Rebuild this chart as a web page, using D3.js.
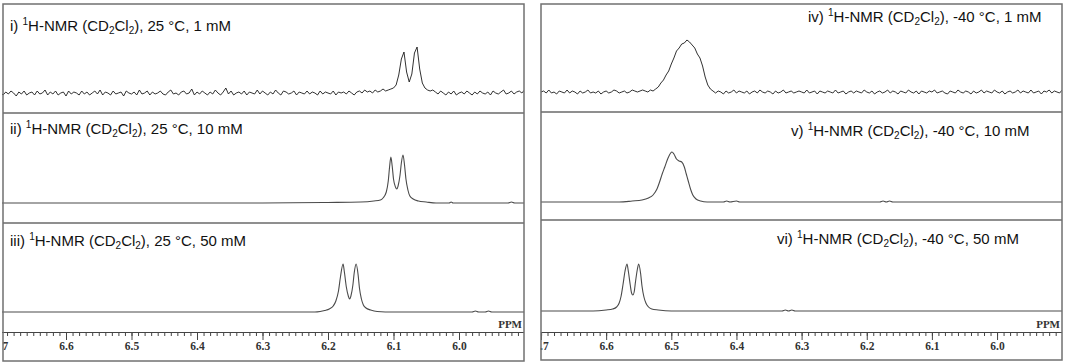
<!DOCTYPE html>
<html>
<head>
<meta charset="utf-8">
<script src="https://cdn.jsdelivr.net/npm/d3@7"></script>
<style>
  html, body { margin: 0; padding: 0; background: #fff; }
  svg { display: block; }
</style>
</head>
<body>
<div id="chart"></div>
<script>
// chemical shift axis (ppm)
const majorTicks = [6.7, 6.6, 6.5, 6.4, 6.3, 6.2, 6.1, 6.0];
const ppmDomain = [6.7, 5.9];
const noiseStep = 0.004; // ppm between points of the noisy traces, from 6.7 down

// i) 25 °C, 1 mM  (noisy trace, one value per 0.004 ppm)
const spec25_1 = [
  0,-2,1,-1,2,0,-3,1,-1,2,-2,0,1,-2,2,-1,0,3,-2,1,
  -1,2,-2,0,1,-3,2,-1,1,0,-2,2,-1,1,-2,0,2,-1,3,-2,
  1,0,-2,2,-1,0,1,-3,2,0,-1,1,-2,3,-1,0,2,-2,1,-1,
  0,2,-1,-2,1,3,-1,0,-2,1,2,-1,0,4,-2,1,-1,2,0,-2,
  1,-1,3,0,-2,1,5,-1,2,-2,0,1,-1,2,-2,1,0,-1,3,-1,
  2,0,-2,1,-1,3,0,-2,2,1,-1,0,2,-2,1,0,-1,2,-1,1,
  0,-2,2,-1,1,0,-1,2,-2,1,0,1,-1,2,0,-2,1,2,0,3,
  1,2,0,3,1,2,4,2,3,4,
  5,8,18,34,41,21,11,19,40,46,24,10,5,3,2,
  3,1,-1,2,0,-2,1,-1,2,-2,0,1,-1,2,0,-2,1,-1,2,0,
  -1,1,-2,2,0,-1,1,3,-1,0,2,-1,1,2,0,3
];

// iv) -40 °C, 1 mM  (noisy trace, one value per 0.004 ppm)
const specM40_1 = [
  0,1,-1,2,-1,0,-2,1,0,-1,2,-1,1,0,-2,1,-1,0,2,-1,
  0,-1,1,-2,0,1,-1,0,2,1,-1,0,1,-1,0,2,1,0,1,2,
  1,0,2,1,
  3,5,9,12,17,21,28,34,41,44,48,49,52,50,47,44,38,34,26,15,7,3,1,
  -1,1,0,-2,1,-1,0,2,-1,1,0,-1,1,-2,0,1,-1,2,0,-1,1,0,-2,1,-1,0,2,-1,0,1,-1,0,1,
  0,-1,2,-1,0,1,-2,1,0,-1,1,0,-1,2,-1,0,1,-2,0,1,-1,1,0,-1,2,0,-1,1,-2,0,1,-1,0,2,-1,1,0,-2,1,0,
  -1,2,0,-1,1,-2,1,0,-1,1,0,2,-1,0,1,-1,-2,1,0,-1,2,0,-1,1,0,-2,1,-1,0,2,-1,1,0,-1,2,0,-1,1,-2,0,
  1,-1,0,2,-1,1,0,-1,2,-1,0,1,-2,1,0,2,-1,1,0,-1,2
];

// ii) 25 °C, 10 mM  [ppm, intensity]
const spec25_10 = [
  [6.70,0],[6.30,0],[6.20,0.5],[6.15,1],[6.13,2],[6.12,3],[6.116,5],[6.111,11],[6.108,22],
  [6.106,36],[6.104,46],[6.102,37],[6.100,24],[6.097,16],[6.095,14],[6.093,17],[6.090,28],
  [6.088,40],[6.0855,48],[6.083,37],[6.081,24],[6.078,13],[6.075,7],[6.070,4],[6.062,2],
  [6.05,1],[6.035,0],[6.015,0],[6.012,1],[6.009,0],[5.925,0],[5.92,1],[5.915,0],[5.90,0]
];

// iii) 25 °C, 50 mM  [ppm, intensity]
const spec25_50 = [
  [6.70,0],[6.22,0],[6.212,0.5],[6.205,1.5],[6.198,3],[6.192,6],[6.188,11],[6.184,21],
  [6.181,35],[6.177,48],[6.175,40],[6.172,25],[6.169,16],[6.167,13],[6.165,16],[6.162,27],
  [6.160,39],[6.157,48],[6.154,37],[6.152,24],[6.149,13],[6.146,7],[6.142,4],[6.135,2],
  [6.125,0.5],[6.10,0],[5.98,0],[5.975,1],[5.97,0],[5.96,0],[5.955,1],[5.95,0],[5.90,0]
];

// v) -40 °C, 10 mM  [ppm, intensity]
const specM40_10 = [
  [6.70,0],[6.58,0],[6.56,1],[6.545,2],[6.535,4],[6.528,7],[6.522,13],[6.518,20],[6.514,28],
  [6.510,35],[6.505,44],[6.501,49],[6.499,50],[6.496,48],[6.492,43],[6.488,41],[6.484,40],
  [6.480,35],[6.477,28],[6.474,21],[6.470,12],[6.467,7],[6.462,3],[6.455,1],[6.445,0],
  [6.42,0],[6.415,1],[6.41,0],[6.40,1],[6.395,0],[6.18,0],[6.175,1],[6.17,0],[6.165,1],
  [6.16,0],[5.90,0]
];

// vi) -40 °C, 50 mM  [ppm, intensity]
const specM40_50 = [
  [6.70,0],[6.62,0],[6.60,1],[6.59,2],[6.584,4],[6.580,8],[6.577,15],[6.574,27],[6.571,40],
  [6.568,47],[6.566,40],[6.563,26],[6.561,18],[6.559,16],[6.557,19],[6.555,29],[6.552,42],
  [6.550,47],[6.547,37],[6.545,25],[6.542,14],[6.539,8],[6.535,4],[6.530,2],[6.52,1],
  [6.50,0],[6.33,0],[6.325,1],[6.32,0],[6.315,1],[6.31,0],[5.90,0]
];

const labelParts = (num, temp, conc) => [
  [num + ') ', ''], ['1', 'sup'], ['H-NMR (CD', ''], ['2', 'sub'], ['Cl', ''], ['2', 'sub'],
  ['), ' + temp + ' °C, ' + conc + ' mM', '']
];

const toPoints = vals => vals.map((v, i) => [ppmDomain[0] - i * noiseStep, v]);

const panels = [
  {
    frame: { x0: 3, x1: 524, y0: 4, y1: 361 }, range: [0.5, 524.5], seps: [113, 223], axisY: 332,
    strips: [
      { label: labelParts('i', '25', '1'), lx: 10, ly: 31, base: 93, data: toPoints(spec25_1), noisy: true },
      { label: labelParts('ii', '25', '10'), lx: 10, ly: 134, base: 203, data: spec25_10 },
      { label: labelParts('iii', '25', '50'), lx: 10, ly: 246, base: 312, data: spec25_50 }
    ]
  },
  {
    frame: { x0: 541, x1: 1062, y0: 4, y1: 360 }, range: [541, 1062.2], seps: [112, 220], axisY: 332,
    strips: [
      { label: labelParts('iv', '-40', '1'), lx: 808, ly: 22, base: 92, data: toPoints(specM40_1), noisy: true },
      { label: labelParts('v', '-40', '10'), lx: 791, ly: 136, base: 202, data: specM40_10 },
      { label: labelParts('vi', '-40', '50'), lx: 777, ly: 244, base: 311, data: specM40_50 }
    ]
  }
];

const minorTicks = d3.range(670, 589, -1).map(v => v / 100);

const W = 1065, H = 364;
const svg = d3.select('#chart').append('svg').attr('width', W).attr('height', H);

panels.forEach((p, pi) => {
  const f = p.frame;
  const clipId = 'clip' + pi;
  svg.append('clipPath').attr('id', clipId)
    .append('rect').attr('x', f.x0 - 1).attr('y', f.y0).attr('width', f.x1 - f.x0 + 1).attr('height', f.y1 - f.y0);

  const g = svg.append('g').attr('clip-path', `url(#${clipId})`);
  const x = d3.scaleLinear().domain(ppmDomain).range(p.range);

  // separators between the three spectra
  p.seps.forEach(sy => {
    g.append('line').attr('x1', f.x0).attr('x2', f.x1).attr('y1', sy).attr('y2', sy)
      .attr('stroke', '#6a6a6a').attr('stroke-width', 1.5);
  });

  p.strips.forEach(s => {
    const y = d3.scaleLinear().domain([0, 100]).range([s.base, s.base - 100]);
    const line = d3.line()
      .x(d => x(d[0]))
      .y(d => y(d[1]))
      .curve(s.noisy ? d3.curveLinear : d3.curveMonotoneX);
    g.append('path').datum(s.data)
      .attr('d', line)
      .attr('fill', 'none')
      .attr('stroke', s.noisy ? '#1a1a1a' : '#4a4a4a')
      .attr('stroke-width', s.noisy ? 0.9 : 1.1);

    const t = svg.append('text').attr('x', s.lx).attr('y', s.ly)
      .attr('font-family', '"Liberation Sans", Arial, sans-serif')
      .attr('font-size', 15).attr('fill', '#111');
    let back = 0;
    s.label.forEach(([txt, kind]) => {
      const ts = t.append('tspan').text(txt);
      if (kind === 'sup') { ts.attr('font-size', 10).attr('dy', back - 6); back = 6; }
      else if (kind === 'sub') { ts.attr('font-size', 10).attr('dy', back + 3); back = -3; }
      else { if (back) ts.attr('dy', back); back = 0; }
    });
  });

  // ppm axis
  g.append('g').attr('transform', `translate(0,${p.axisY})`)
    .call(d3.axisBottom(x).tickValues(minorTicks).tickSize(4).tickFormat(''))
    .call(a => a.select('.domain').attr('stroke', '#444').attr('stroke-width', 1.2))
    .call(a => a.selectAll('.tick line').attr('stroke', '#444'));
  g.append('g').attr('transform', `translate(0,${p.axisY})`)
    .call(d3.axisBottom(x).tickValues(majorTicks).tickSize(8).tickPadding(2).tickFormat(d3.format('.1f')))
    .call(a => a.select('.domain').remove())
    .call(a => a.selectAll('.tick line').attr('stroke', '#444'))
    .call(a => a.selectAll('.tick text')
      .attr('font-family', '"Liberation Serif", "Times New Roman", serif')
      .attr('font-weight', 'bold').attr('font-size', 11.5).attr('fill', '#333'));

  g.append('text').attr('x', f.x1 - 2).attr('y', p.axisY - 4).attr('text-anchor', 'end')
    .attr('font-family', '"Liberation Serif", "Times New Roman", serif')
    .attr('font-weight', 'bold').attr('font-size', 11).attr('fill', '#333')
    .text('PPM');

  // outer frame
  svg.append('rect').attr('x', f.x0).attr('y', f.y0).attr('width', f.x1 - f.x0).attr('height', f.y1 - f.y0)
    .attr('fill', 'none').attr('stroke', '#707070').attr('stroke-width', 1.5);
});
</script>
</body>
</html>
